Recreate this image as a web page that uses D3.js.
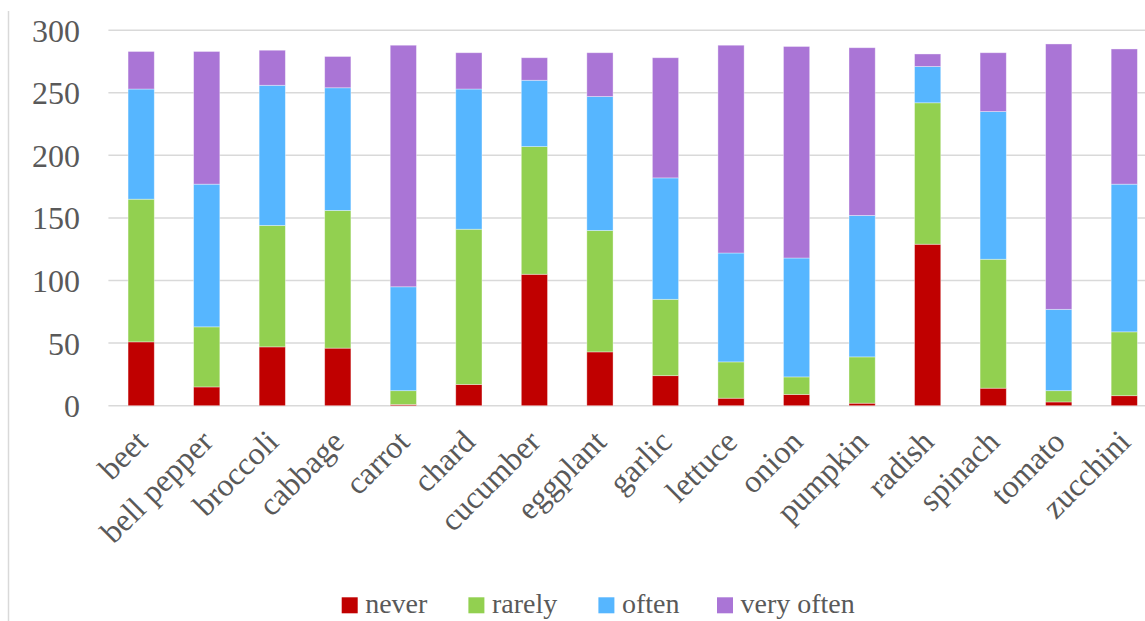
<!DOCTYPE html>
<html>
<head>
<meta charset="utf-8">
<script src="https://cdn.jsdelivr.net/npm/d3@7"></script>
<style>
  html, body { margin: 0; padding: 0; background: #fff; }
  svg { display: block; }
  text { font-family: "Liberation Serif", "Times New Roman", serif; fill: #595959; }
</style>
</head>
<body>
<svg id="chart" width="1145" height="621"></svg>
<script>
// Vegetables surveyed
const categories = ["beet", "bell pepper", "broccoli", "cabbage", "carrot", "chard", "cucumber",
  "eggplant", "garlic", "lettuce", "onion", "pumpkin", "radish", "spinach", "tomato", "zucchini"];

// Number of answers per frequency class
const never      = [51, 15, 47, 46,   1,  17, 105, 43, 24,   6,   9,   2, 129, 14,   3,   8];
const rarely     = [114, 48, 97, 110, 11, 124, 102, 97, 61,  29,  14,  37, 113, 103,  9,  51];
const often      = [88, 114, 112, 98, 83, 112,  53, 107, 97, 87,  95, 113,  29, 118, 65, 118];
const veryOften  = [30, 106, 28, 25, 193, 29,  18, 35, 96, 166, 169, 134,  10, 47, 212, 108];

const seriesNames = ["never", "rarely", "often", "very often"];
const seriesColors = ["#C00000", "#92D050", "#56B6FF", "#AA75D6"];
const yTicks = [0, 50, 100, 150, 200, 250, 300];

const rows = categories.map((c, i) => ({
  category: c,
  "never": never[i],
  "rarely": rarely[i],
  "often": often[i],
  "very often": veryOften[i]
}));

const svg = d3.select("#chart");
const W = 1145, H = 621;

// chart-area frame line on the left
svg.append("line")
  .attr("x1", 8.5).attr("x2", 8.5).attr("y1", 11).attr("y2", H)
  .attr("stroke", "#D9D9D9").attr("stroke-width", 1.5);

const plotLeft = 108.4;
const step = 65.54;
const x = d3.scaleBand()
  .domain(categories)
  .range([plotLeft, plotLeft + step * categories.length])
  .paddingInner(0.6)
  .paddingOuter(0.3);

const y = d3.scaleLinear().domain([0, 300]).range([405.7, 30.2]);

// horizontal gridlines
svg.append("g")
  .selectAll("line")
  .data(yTicks)
  .join("line")
  .attr("x1", plotLeft).attr("x2", W)
  .attr("y1", d => y(d)).attr("y2", d => y(d))
  .attr("stroke", "#D9D9D9").attr("stroke-width", 1.5);

// y axis labels
const yAxis = d3.axisLeft(y).tickValues(yTicks).tickSize(0).tickPadding(0);
const yg = svg.append("g").attr("transform", "translate(80,0)").call(yAxis);
yg.select(".domain").remove();
yg.selectAll("text")
  .attr("font-size", 32)
  .attr("font-family", "Liberation Serif, serif")
  .attr("fill", "#595959")
  .attr("dy", "0.34em");

// stacked bars
const stack = d3.stack().keys(seriesNames);
const stacked = stack(rows);
const color = d3.scaleOrdinal().domain(seriesNames).range(seriesColors);

svg.append("g")
  .selectAll("g")
  .data(stacked)
  .join("g")
  .attr("fill", d => color(d.key))
  .selectAll("rect")
  .data(d => d)
  .join("rect")
  .attr("x", d => x(d.data.category))
  .attr("width", x.bandwidth())
  .attr("y", d => y(d[1]))
  .attr("height", d => y(d[0]) - y(d[1]))
  .attr("stroke", "rgba(255,255,255,0.45)")
  .attr("stroke-width", 0.8);

// category labels, rotated
const xAxis = d3.axisBottom(x).tickSize(0).tickPadding(0);
const xg = svg.append("g").attr("transform", `translate(0,${y(0)})`).call(xAxis);
xg.select(".domain").remove();
xg.selectAll("text")
  .attr("font-size", 32)
  .attr("font-family", "Liberation Serif, serif")
  .attr("fill", "#595959")
  .attr("text-anchor", "end")
  .attr("y", 0)
  .attr("dy", null)
  .attr("transform", "translate(8,38) rotate(-45)");

// legend
const legendItems = [
  { name: "never", x: 341.7 },
  { name: "rarely", x: 468.4 },
  { name: "often", x: 598.4 },
  { name: "very often", x: 717 }
];
const lg = svg.append("g");
const li = lg.selectAll("g").data(legendItems).join("g");
li.append("rect")
  .attr("x", d => d.x).attr("y", 597.3)
  .attr("width", 16).attr("height", 16)
  .attr("fill", d => color(d.name));
li.append("text")
  .attr("x", d => d.x + 23.5).attr("y", 612.5)
  .attr("font-size", 28)
  .text(d => d.name);
</script>
</body>
</html>
